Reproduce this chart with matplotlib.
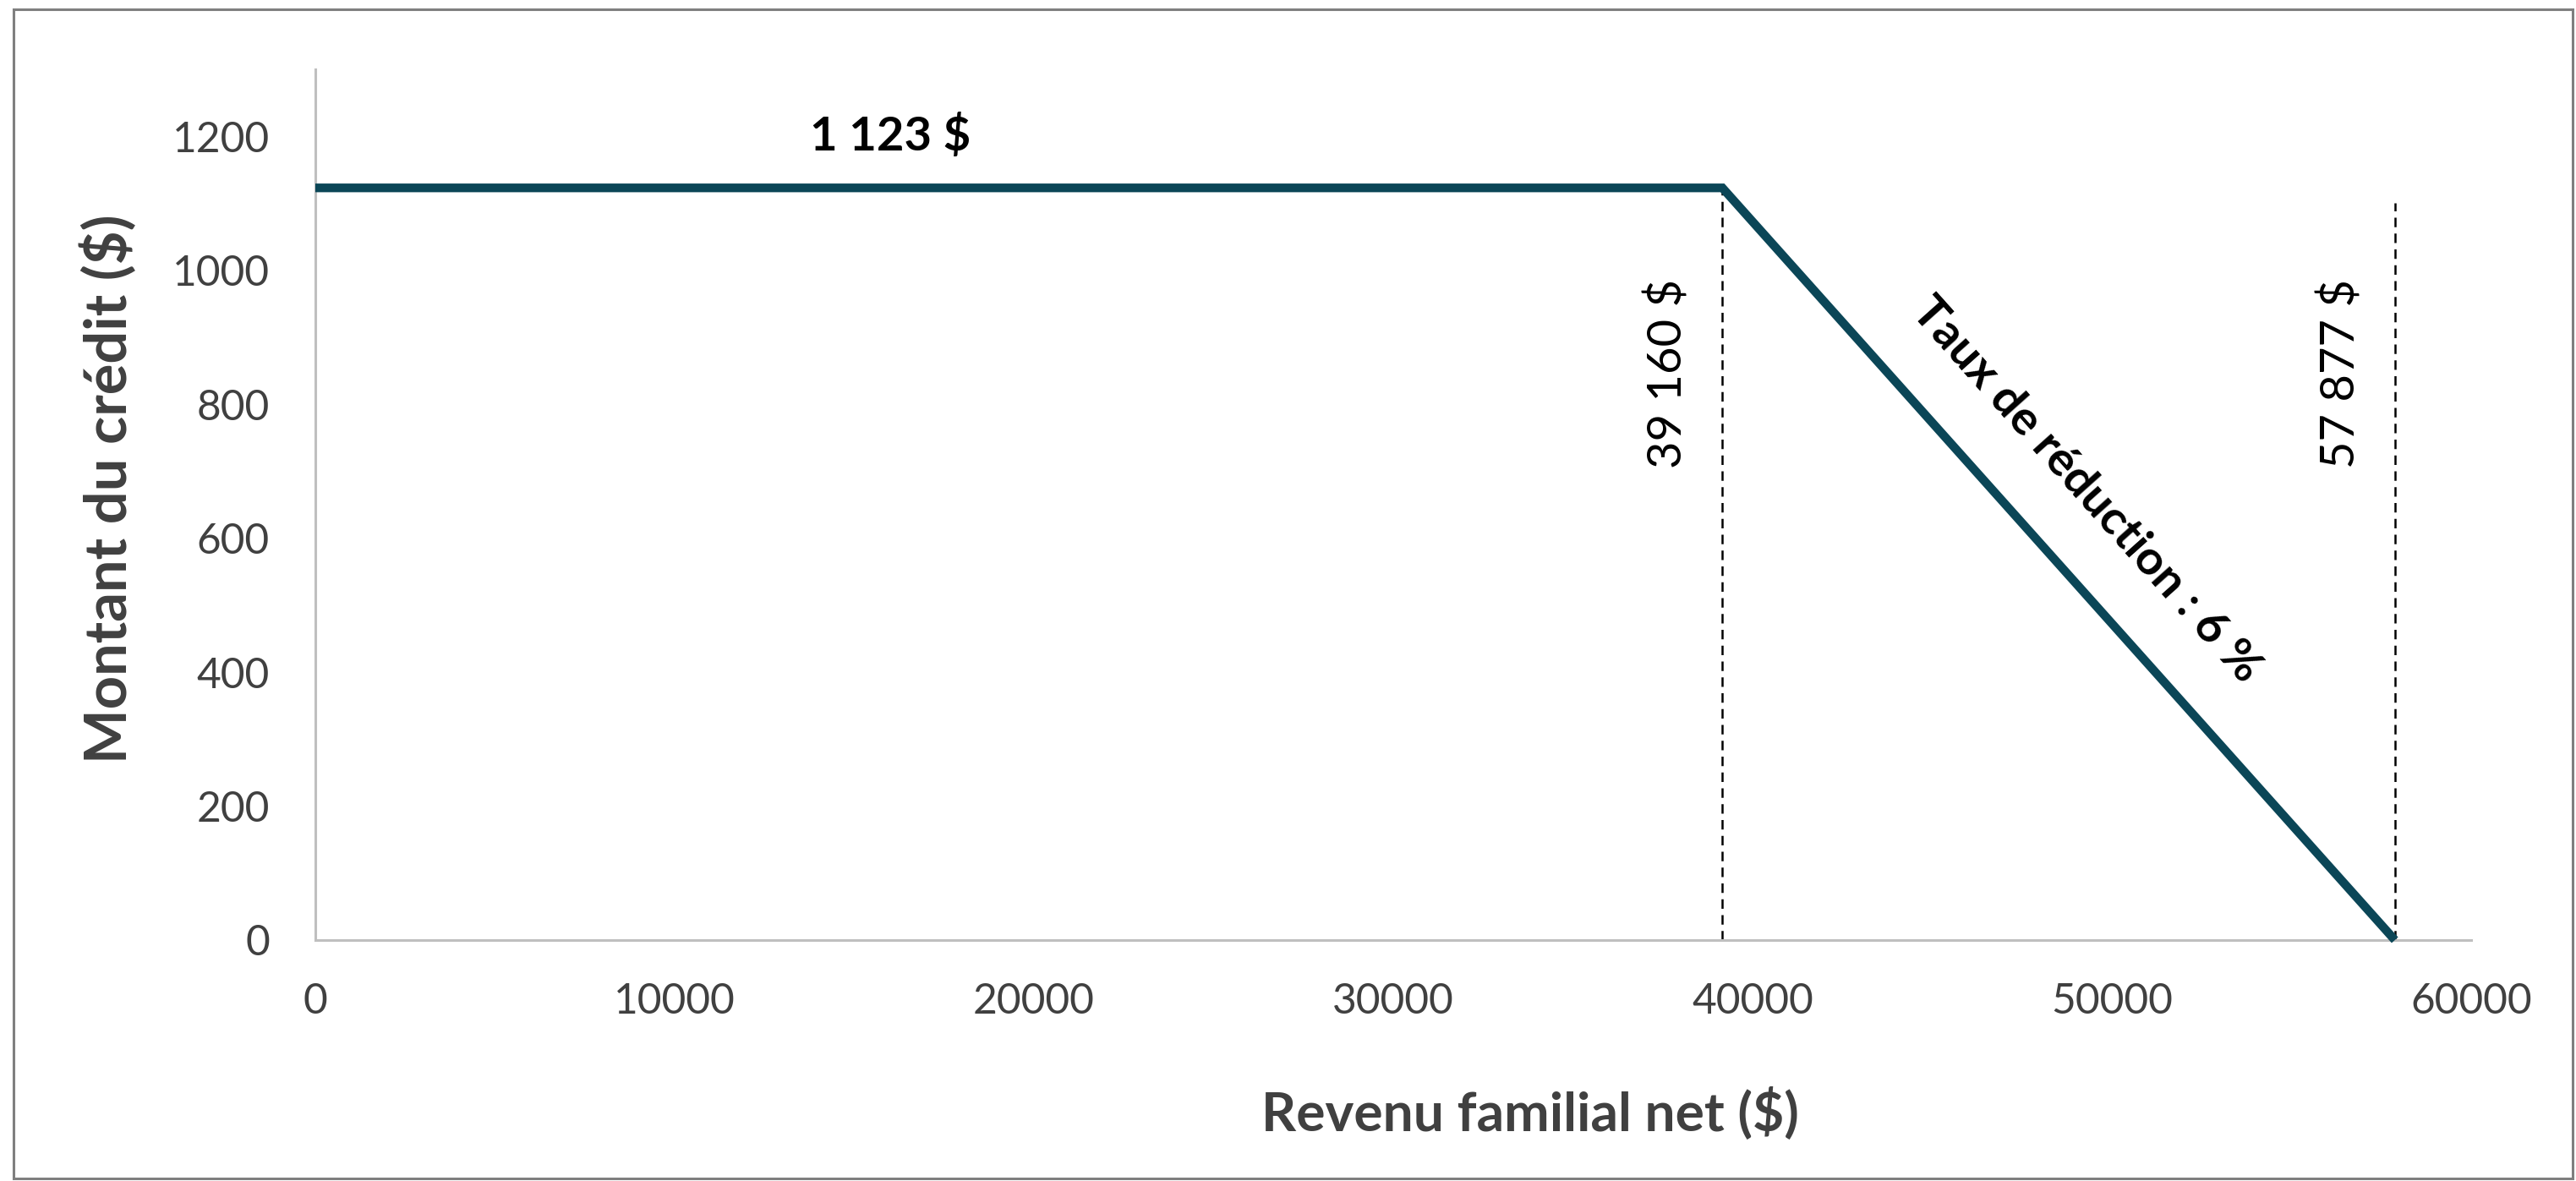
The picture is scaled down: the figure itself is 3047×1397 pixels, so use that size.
import matplotlib
matplotlib.use("Agg")
import matplotlib.pyplot as plt
from matplotlib.patches import Rectangle
import numpy as np

# ---- data ----
income = [0, 39160, 57877]
credit = [1123, 1123, 0]
thresholds = [39160, 57877]
threshold_labels = ["39 160 $", "57 877 $"]
guide_tops = [1123, 1100]
max_credit_label = "1 123 $"
rate_label = "Taux de réduction : 6 %"
x_ticks = [0, 10000, 20000, 30000, 40000, 50000, 60000]
y_ticks = [0, 200, 400, 600, 800, 1000, 1200]
x_title = "Revenu familial net ($)"
y_title = "Montant du crédit ($)"

plt.rcParams['font.family'] = ['Lato', 'DejaVu Sans']

W, H = 3047, 1397
DPI = 100
fig = plt.figure(figsize=(W / DPI, H / DPI), dpi=DPI)
renderer = fig.canvas.get_renderer()


def fit_size(s, target_px, weight='normal', base=40.0):
    t = fig.text(0, 0, s, fontsize=base, fontweight=weight)
    w = t.get_window_extent(renderer=renderer).width
    t.remove()
    return base * target_px / w


tick_fs = fit_size("1200", 115)
xt_fs = fit_size(x_title, 635, 'bold')
yt_fs = fit_size(y_title, 650, 'bold')
max_fs = fit_size(max_credit_label, 190, 'bold')
thr_fs = fit_size(threshold_labels[0], 224)
rate_fs = fit_size(rate_label, 590, 'bold')

ax = fig.add_axes([373 / W, 1 - 1112 / H, (2923 - 373) / W, (1112 - 82) / H])
ax.set_xlim(0, 60000)
ax.set_ylim(0, 1300)
ax.set_xticks(x_ticks)
ax.set_yticks(y_ticks)
ax.set_xticklabels([str(v) for v in x_ticks])
ax.set_yticklabels([str(v) for v in y_ticks])
ax.tick_params(axis='both', length=0, labelsize=tick_fs, labelcolor='#404040')
ax.tick_params(axis='y', pad=39)
ax.tick_params(axis='x', pad=36)
for s in ['top', 'right']:
    ax.spines[s].set_visible(False)
for s in ['left', 'bottom']:
    ax.spines[s].set_color('#BFBFBF')
    ax.spines[s].set_linewidth(2.2)

# main line
ax.plot(income, credit, color='#0B4657', lw=7.4, solid_joinstyle='miter',
        solid_capstyle='butt', zorder=3, clip_on=False)

# dashed guides
for xv, top in zip(thresholds, guide_tops):
    ax.plot([xv, xv], [0, top], color='black', lw=1.8,
            linestyle=(0, (4.5, 3.0)), zorder=2, clip_on=False)

# labels
ax.text(16000, 1201, max_credit_label, ha='center', va='center',
        fontsize=max_fs, fontweight='bold', color='black')
for xv, lab in zip(thresholds, threshold_labels):
    ax.annotate(lab, xy=(xv, 845), xytext=(-46, 0), textcoords='offset points',
                rotation=90, ha='center', va='center', fontsize=thr_fs,
                color='black')

ang = np.degrees(np.arctan2(credit[2] - credit[1], income[2] - income[1]))
ax.text(49300, 672, rate_label, rotation=ang, transform_rotates_text=True,
        rotation_mode='anchor', ha='center', va='center', fontsize=rate_fs,
        fontweight='bold', color='black')

# axis titles
fig.text(1810 / W, 1 - 1338 / H, x_title, ha='center', va='baseline',
         fontsize=xt_fs, fontweight='bold', color='#404040')
fig.text(150 / W, 1 - 578 / H, y_title, rotation=90, rotation_mode='anchor',
         ha='center', va='baseline', fontsize=yt_fs, fontweight='bold',
         color='#404040')

# outer border
fig.add_artist(Rectangle((16 / W, 1 - 1394 / H), (3043 - 16) / W, (1394 - 11) / H,
                         transform=fig.transFigure, fill=False,
                         edgecolor='#7F7F7F', lw=2.2))

fig.savefig('out.png', dpi=DPI)
